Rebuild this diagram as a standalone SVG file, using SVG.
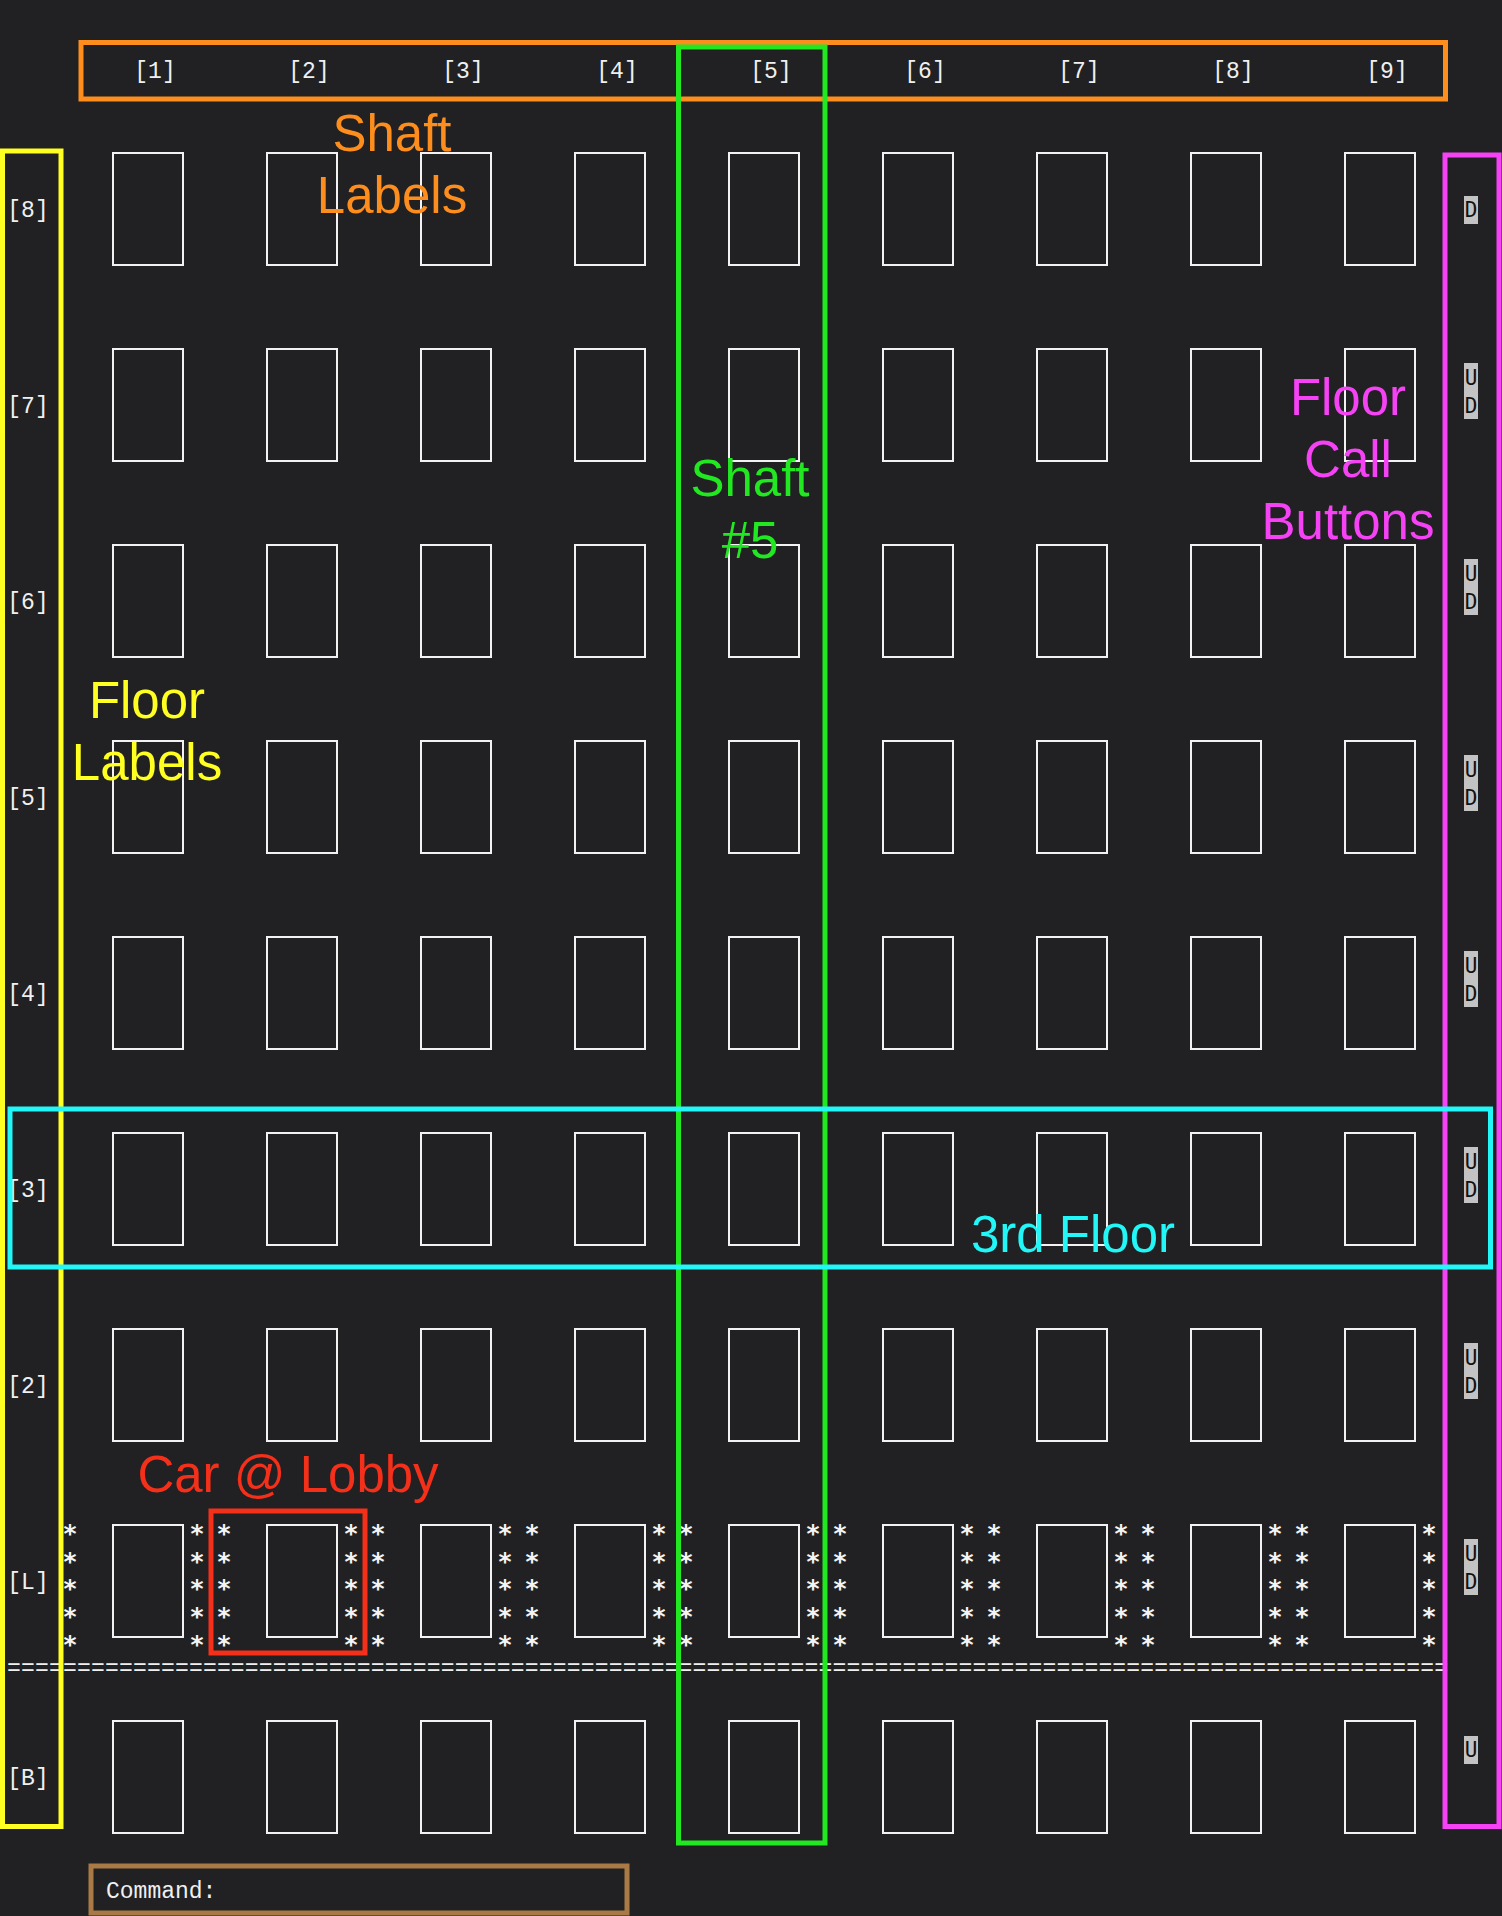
<svg xmlns="http://www.w3.org/2000/svg" width="1502" height="1916" viewBox="0 0 1502 1916">
<defs>
<style>
.bg{fill:#212123}
.win{fill:none;stroke:#f2f2f2;stroke-width:2}
.mono{font-family:"Liberation Mono","DejaVu Sans Mono",monospace;font-size:23px;fill:#f0f0f0}
.lbl{text-anchor:middle}
.ast{font-family:"DejaVu Sans Mono","Liberation Mono",monospace;font-size:25px;fill:#f4f4f4;text-anchor:middle;font-weight:bold}
.btn{fill:#c3c3c3}
.btxt{font-family:"DejaVu Sans Mono","Liberation Mono",monospace;font-size:21px;fill:#111111;text-anchor:middle}
.ann{fill:none;stroke-width:5}
.atxt{font-family:"Liberation Sans",Arial,sans-serif;font-size:51px;text-anchor:middle}
</style>
<g id="win-row">
<rect class="win" x="113" y="0" width="70" height="112"/>
<rect class="win" x="267" y="0" width="70" height="112"/>
<rect class="win" x="421" y="0" width="70" height="112"/>
<rect class="win" x="575" y="0" width="70" height="112"/>
<rect class="win" x="729" y="0" width="70" height="112"/>
<rect class="win" x="883" y="0" width="70" height="112"/>
<rect class="win" x="1037" y="0" width="70" height="112"/>
<rect class="win" x="1191" y="0" width="70" height="112"/>
<rect class="win" x="1345" y="0" width="70" height="112"/>
</g>
</defs>
<rect class="bg" x="0" y="0" width="1502" height="1916"/>

<g id="shaft-labels" class="mono lbl">
<text x="155" y="78">[1]</text>
<text x="309" y="78">[2]</text>
<text x="463" y="78">[3]</text>
<text x="617" y="78">[4]</text>
<text x="771" y="78">[5]</text>
<text x="925" y="78">[6]</text>
<text x="1079" y="78">[7]</text>
<text x="1233" y="78">[8]</text>
<text x="1387" y="78">[9]</text>
</g>

<g id="floor-labels" class="mono lbl">
<text x="28" y="217">[8]</text>
<text x="28" y="413">[7]</text>
<text x="28" y="609">[6]</text>
<text x="28" y="805">[5]</text>
<text x="28" y="1001">[4]</text>
<text x="28" y="1197">[3]</text>
<text x="28" y="1393">[2]</text>
<text x="28" y="1589">[L]</text>
<text x="28" y="1785">[B]</text>
</g>

<g id="floor-8"><use href="#win-row" y="153"/></g>
<g id="floor-7"><use href="#win-row" y="349"/></g>
<g id="floor-6"><use href="#win-row" y="545"/></g>
<g id="floor-5"><use href="#win-row" y="741"/></g>
<g id="floor-4"><use href="#win-row" y="937"/></g>
<g id="floor-3"><use href="#win-row" y="1133"/></g>
<g id="floor-2"><use href="#win-row" y="1329"/></g>
<g id="floor-L"><use href="#win-row" y="1525"/></g>
<g id="floor-B"><use href="#win-row" y="1721"/></g>

<g id="lobby-cars" class="ast">
<text x="70 197 224 351 378 505 532 659 686 813 840 967 994 1121 1148 1275 1302 1429" y="1542">******************</text>
<text x="70 197 224 351 378 505 532 659 686 813 840 967 994 1121 1148 1275 1302 1429" y="1570">******************</text>
<text x="70 197 224 351 378 505 532 659 686 813 840 967 994 1121 1148 1275 1302 1429" y="1597">******************</text>
<text x="70 197 224 351 378 505 532 659 686 813 840 967 994 1121 1148 1275 1302 1429" y="1625">******************</text>
<text x="70 197 224 351 378 505 532 659 686 813 840 967 994 1121 1148 1275 1302 1429" y="1653">******************</text>
</g>

<g id="lobby-separator">
<text class="mono" x="7" y="1675" textLength="1441" lengthAdjust="spacing">=======================================================================================================</text>
</g>

<g id="call-buttons">
<rect class="btn" x="1464" y="196" width="14" height="28"/>
<text class="btxt" x="1471" y="217">D</text>
<rect class="btn" x="1464" y="363" width="14" height="56"/>
<text class="btxt" x="1471" y="385">U</text><text class="btxt" x="1471" y="413">D</text>
<rect class="btn" x="1464" y="559" width="14" height="56"/>
<text class="btxt" x="1471" y="581">U</text><text class="btxt" x="1471" y="609">D</text>
<rect class="btn" x="1464" y="755" width="14" height="56"/>
<text class="btxt" x="1471" y="777">U</text><text class="btxt" x="1471" y="805">D</text>
<rect class="btn" x="1464" y="951" width="14" height="56"/>
<text class="btxt" x="1471" y="973">U</text><text class="btxt" x="1471" y="1001">D</text>
<rect class="btn" x="1464" y="1147" width="14" height="56"/>
<text class="btxt" x="1471" y="1169">U</text><text class="btxt" x="1471" y="1197">D</text>
<rect class="btn" x="1464" y="1343" width="14" height="56"/>
<text class="btxt" x="1471" y="1365">U</text><text class="btxt" x="1471" y="1393">D</text>
<rect class="btn" x="1464" y="1539" width="14" height="56"/>
<text class="btxt" x="1471" y="1561">U</text><text class="btxt" x="1471" y="1589">D</text>
<rect class="btn" x="1464" y="1736" width="14" height="28"/>
<text class="btxt" x="1471" y="1757">U</text>
</g>

<g id="command-box">
<rect class="ann" x="91" y="1866" width="536" height="47" stroke="#a97a45"/>
<text class="mono" x="106" y="1898" font-size="22">Command:</text>
</g>

<g id="ann-shaft-labels">
<rect class="ann" x="81" y="42.5" width="1364.5" height="56.5" stroke="#fd8d1c"/>
<text class="atxt" fill="#fd8d1c" x="392" y="151">Shaft</text>
<text class="atxt" fill="#fd8d1c" x="392" y="213">Labels</text>
</g>

<g id="ann-floor-labels">
<rect class="ann" x="2.5" y="151" width="58.5" height="1675.5" stroke="#ffff22"/>
<text class="atxt" fill="#ffff22" x="147" y="718">Floor</text>
<text class="atxt" fill="#ffff22" x="147" y="780">Labels</text>
</g>

<g id="ann-shaft-5">
<rect class="ann" x="678.5" y="47" width="146.5" height="1796" stroke="#22e822"/>
<text class="atxt" fill="#22e822" x="750" y="496">Shaft</text>
<text class="atxt" fill="#22e822" x="750" y="558">#5</text>
</g>

<g id="ann-floor-buttons">
<rect class="ann" x="1445" y="155" width="54" height="1671.5" stroke="#f442f4"/>
<text class="atxt" fill="#f442f4" x="1348" y="415">Floor</text>
<text class="atxt" fill="#f442f4" x="1348" y="477">Call</text>
<text class="atxt" fill="#f442f4" x="1348" y="539">Buttons</text>
</g>

<g id="ann-3rd-floor">
<rect class="ann" x="10" y="1109" width="1480.5" height="158" stroke="#22f6f6"/>
<text class="atxt" fill="#22f6f6" x="1073" y="1252">3rd Floor</text>
</g>

<g id="ann-car-lobby">
<rect class="ann" x="211" y="1511" width="154" height="142" stroke="#f5301a"/>
<text class="atxt" fill="#f5301a" x="288" y="1492">Car @ Lobby</text>
</g>
</svg>
